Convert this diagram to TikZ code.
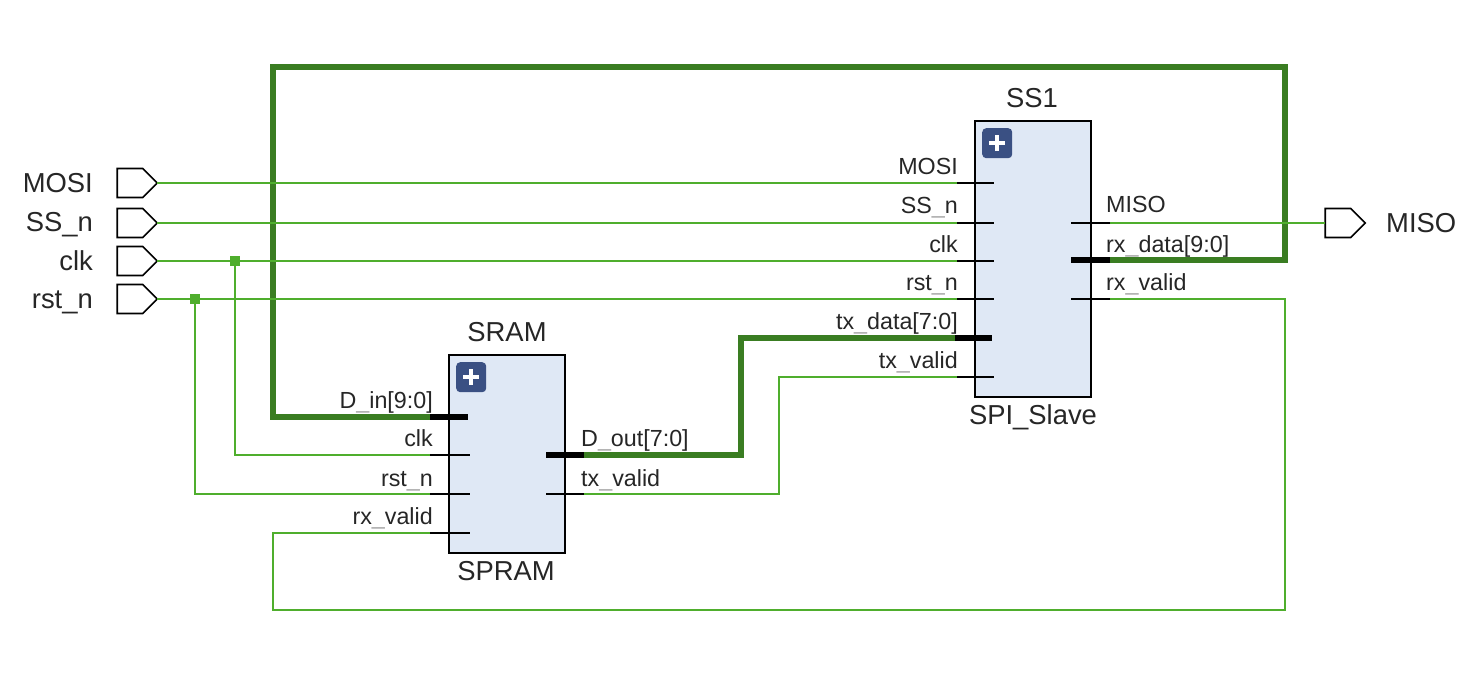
\documentclass[tikz,border=0pt]{standalone}
\usepackage{fontspec}
\setmainfont{Liberation Sans}
\usetikzlibrary{shapes.symbols}
\definecolor{wirelight}{HTML}{4FAE2D}
\definecolor{wiredark}{HTML}{3A7D22}
\definecolor{blockfill}{HTML}{DFE8F5}
\definecolor{plusfill}{HTML}{3A5083}
\newcommand{\gapline}{\textcolor{black!35}{\_}}
\tikzset{
	port/.style={draw=black, line width=1.6pt, fill=white, signal, signal to=east, minimum width=40pt, minimum height=29pt, inner sep=0pt, outer sep=0pt},
	block/.style={draw=black, line width=2.2pt, fill=blockfill, inner sep=0pt, anchor=north west},
	plusbox/.style={fill=plusfill, rounded corners=4pt, minimum size=30pt, inner sep=0pt, anchor=north west,
		path picture={\draw[white, line width=4pt] ([xshift=-8pt]path picture bounding box.center) -- ([xshift=8pt]path picture bounding box.center);
			\draw[white, line width=4pt] ([yshift=-8pt]path picture bounding box.center) -- ([yshift=8pt]path picture bounding box.center);}},
	thin wire/.style={wirelight, line width=2pt},
	bus wire/.style={wiredark, line width=5.5pt, line join=miter},
	thin pin/.style={black, line width=2pt},
	bus pin/.style={black, line width=6pt},
	dot/.style={fill=wirelight, minimum size=10pt, inner sep=0pt},
	pinlabel/.style={font=\fontsize{23.3}{23.3}\selectfont, text=black!85, inner sep=0pt},
	toplabel/.style={font=\fontsize{27.4}{27.4}\selectfont, text=black!85, inner sep=0pt},
}
\begin{document}
\begin{tikzpicture}[x=1pt,y=-1pt]
	\useasboundingbox (0,0) rectangle (1474,674);

	% blocks
	\node[block, minimum width=116pt, minimum height=276pt] (spi) at (974,120) {};
	\node[block, minimum width=116pt, minimum height=198pt] (ram) at (448,354) {};
	\node[plusbox] (spiplus) at (982,128) {};
	\node[plusbox] (ramplus) at (456,362) {};
	\node[toplabel, anchor=base] (spiname) at (1032,108) {SS1};
	\node[toplabel, anchor=base] (spitype) at (1033,424) {SPI\_Slave};
	\node[toplabel, anchor=base] (ramname) at (507,341) {SRAM};
	\node[toplabel, anchor=base] (ramtype) at (506,580) {SPRAM};

	% top level ports
	\node[port] (mosi) at (130,183) {};
	\node[port] (ssn) at (130,223) {};
	\node[port] (clk) at (130,261) {};
	\node[port] (rstn) at (130,299) {};
	\node[port] (miso) at (1338,223) {};
	\node[toplabel, anchor=base east] (mosilabel) at (93,192) {MOSI};
	\node[toplabel, anchor=base east] (ssnlabel) at (93,231) {SS\_n};
	\node[toplabel, anchor=base east] (clklabel) at (93,270) {clk};
	\node[toplabel, anchor=base east] (rstnlabel) at (93,308) {rst\_n};
	\node[toplabel, anchor=base west] (misolabel) at (1386,232) {MISO};

	% SPI_Slave pins, outer end then inner end
	\coordinate (spimosi) at (957,183);
	\coordinate (spimosii) at (994,183);
	\coordinate (spissn) at (957,223);
	\coordinate (spissni) at (994,223);
	\coordinate (spiclk) at (957,261);
	\coordinate (spiclki) at (994,261);
	\coordinate (spirst) at (957,299);
	\coordinate (spirsti) at (994,299);
	\coordinate (spitx) at (955,338);
	\coordinate (spitxi) at (992,338);
	\coordinate (spitxv) at (957,377);
	\coordinate (spitxvi) at (994,377);
	\coordinate (spimiso) at (1110,223);
	\coordinate (spimisoi) at (1071,223);
	\coordinate (spirx) at (1110,260);
	\coordinate (spirxi) at (1071,260);
	\coordinate (spirxv) at (1110,299);
	\coordinate (spirxvi) at (1071,299);

	% SPRAM pins
	\coordinate (ramin) at (430,417);
	\coordinate (ramini) at (468,417);
	\coordinate (ramclk) at (430,455);
	\coordinate (ramclki) at (470,455);
	\coordinate (ramrst) at (430,494);
	\coordinate (ramrsti) at (470,494);
	\coordinate (ramrxv) at (430,533);
	\coordinate (ramrxvi) at (470,533);
	\coordinate (ramout) at (584,455);
	\coordinate (ramouti) at (546,455);
	\coordinate (ramtxv) at (584,494);
	\coordinate (ramtxvi) at (546,494);

	% corners of the long wires
	\coordinate (rxright) at (1285,67);
	\coordinate (rxleft) at (273,67);
	\coordinate (rxvright) at (1285,610);
	\coordinate (rxvleft) at (273,610);
	\coordinate (outmid) at (741,400);
	\coordinate (txvmid) at (779,400);

	% buses
	\draw[bus wire](spirx) -| (rxright) -- (rxleft) |- (ramin);
	\draw[bus wire](ramout) -| (outmid) |- (spitx);

	% single wires
	\draw[thin wire](mosi.east) -- (spimosi);
	\draw[thin wire](ssn.east) -- (spissn);
	\draw[thin wire](clk.east) -- (spiclk);
	\draw[thin wire](rstn.east) -- (spirst);
	\draw[thin wire](spimiso) -- (miso.west);
	\draw[thin wire](ramtxv) -| (txvmid) |- (spitxv);
	\draw[thin wire](spirxv) -| (rxvright) -- (rxvleft) |- (ramrxv);
	\node[dot] (clkdot) at (235,261) {};
	\node[dot] (rstdot) at (195,299) {};
	\draw[thin wire](clkdot) |- (ramclk);
	\draw[thin wire](rstdot) |- (ramrst);

	% black pin stubs
	\draw[thin pin](spimosi) -- (spimosii);
	\draw[thin pin](spissn) -- (spissni);
	\draw[thin pin](spiclk) -- (spiclki);
	\draw[thin pin](spirst) -- (spirsti);
	\draw[bus pin](spitx) -- (spitxi);
	\draw[thin pin](spitxv) -- (spitxvi);
	\draw[thin pin](spimiso) -- (spimisoi);
	\draw[bus pin](spirx) -- (spirxi);
	\draw[thin pin](spirxv) -- (spirxvi);
	\draw[bus pin](ramin) -- (ramini);
	\draw[thin pin](ramclk) -- (ramclki);
	\draw[thin pin](ramrst) -- (ramrsti);
	\draw[thin pin](ramrxv) -- (ramrxvi);
	\draw[bus pin](ramout) -- (ramouti);
	\draw[thin pin](ramtxv) -- (ramtxvi);

	% pin labels
	\node[pinlabel, anchor=base east] (lmosi) at (958,174) {MOSI};
	\node[pinlabel, anchor=base east] (lssn) at (958,213) {SS\gapline n};
	\node[pinlabel, anchor=base east] (lclk) at (958,252) {clk};
	\node[pinlabel, anchor=base east] (lrst) at (958,290) {rst\gapline n};
	\node[pinlabel, anchor=base east] (ltx) at (958,329) {tx\gapline data[7:0]};
	\node[pinlabel, anchor=base east] (ltxv) at (958,368) {tx\gapline valid};
	\node[pinlabel, anchor=base west] (lmiso) at (1106,212) {MISO};
	\node[pinlabel, anchor=base west] (lrx) at (1106,252) {rx\gapline data[9:0]};
	\node[pinlabel, anchor=base west] (lrxv) at (1106,290) {rx\gapline valid};
	\node[pinlabel, anchor=base east] (lin) at (433,408) {D\gapline in[9:0]};
	\node[pinlabel, anchor=base east] (lrclk) at (433,446) {clk};
	\node[pinlabel, anchor=base east] (lrrst) at (433,486) {rst\gapline n};
	\node[pinlabel, anchor=base east] (lrrxv) at (433,524) {rx\gapline valid};
	\node[pinlabel, anchor=base west] (lout) at (581,446) {D\gapline out[7:0]};
	\node[pinlabel, anchor=base west] (ltxvo) at (581,486) {tx\gapline valid};
\end{tikzpicture}
\end{document}
